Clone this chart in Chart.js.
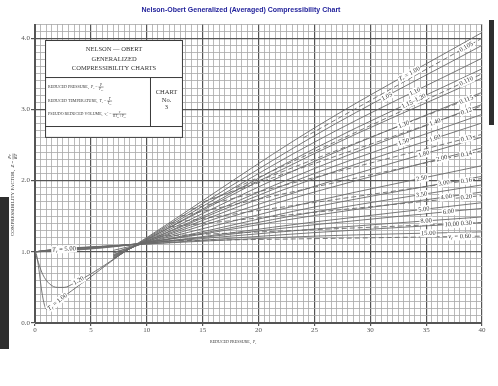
<!DOCTYPE html>
<html>
<head>
<meta charset="utf-8">
<script src="https://cdn.jsdelivr.net/npm/chart.js@4.4.0/dist/chart.umd.min.js"></script>
<style>
  html, body { margin: 0; padding: 0; background: #fff; }
  #wrap { width: 498px; height: 386px; }
</style>
</head>
<body>
<div id="wrap"><canvas id="chart"></canvas></div>
<script>
// reduced temperature of each isotherm
const trLabels = ['1.00', '1.05', '1.10', '1.15', '1.20', '1.30', '1.40', '1.50', '1.60', '1.80',
                  '2.00', '2.50', '3.00', '3.50', '4.00', '5.00', '6.00', '8.00', '10.00', '15.00'];

// Z read along the fan, at Pr = 10, 25 and 40
const fanPr = [10, 25, 40];
const zAt10 = [1.20, 1.19, 1.18, 1.17, 1.17, 1.16, 1.15, 1.15, 1.14, 1.14,
               1.13, 1.13, 1.13, 1.13, 1.13, 1.12, 1.12, 1.12, 1.11, 1.11];
const zAt25 = [2.74, 2.63, 2.54, 2.45, 2.38, 2.27, 2.17, 2.10, 2.03, 1.92,
               1.84, 1.71, 1.63, 1.56, 1.51, 1.42, 1.38, 1.32, 1.27, 1.22];
const zAt40 = [4.08, 3.90, 3.72, 3.57, 3.44, 3.24, 3.07, 2.93, 2.81, 2.61,
               2.46, 2.21, 2.06, 1.94, 1.84, 1.69, 1.61, 1.49, 1.41, 1.28];

// where the middle isotherms start (Pr = 7)
const zAt7 = [null, 0.90, 0.91, 0.92, null, 0.93, 0.94, 0.95, 0.96, 0.98,
              0.99, 1.02, null, null, null, null, null, null, null, null];

// hot isotherms near Pr = 0, 2, 5
const hotPr = [0, 2, 5];
const hotZ0 = [null, null, null, null, null, null, null, null, null, null,
               null, null, 1.00, 1.00, 1.00, 1.00, 1.00, 1.00, 1.00, 1.00];
const hotZ2 = [null, null, null, null, null, null, null, null, null, null,
               null, null, 1.01, 1.015, 1.02, 1.03, 1.03, 1.035, 1.035, 1.04];
const hotZ5 = [null, null, null, null, null, null, null, null, null, null,
               null, null, 1.04, 1.045, 1.05, 1.06, 1.06, 1.065, 1.065, 1.07];

// the two low pressure dips
const dip100Pr = [0, 0.15, 0.35, 0.6, 0.85, 1.05, 1.4, 3, 5, 8];
const dip100Z = [1.0, 0.95, 0.75, 0.45, 0.25, 0.19, 0.22, 0.42, 0.65, 1.0];
const dip120Pr = [0, 0.3, 0.7, 1.3, 2.0, 2.6, 3.5, 5, 6.5, 8];
const dip120Z = [1.0, 0.85, 0.68, 0.55, 0.50, 0.50, 0.56, 0.69, 0.84, 1.0];

// dashed lines of constant pseudo reduced volume
const vrLabels = ['0.105', '0.110', '0.115', '0.12', '0.13', '0.14', '0.16', '0.20', '0.30', '0.60'];
const vrStartPr = [24, 18, 16, 15, 14, 13, 12, 12, 11, 10];
const vrStartZ = [2.60, 1.90, 1.75, 1.70, 1.60, 1.50, 1.40, 1.35, 1.22, 1.15];
const vrEndZ = [4.00, 3.50, 3.22, 3.05, 2.65, 2.42, 2.03, 1.79, 1.41, 1.22];

// where the isotherm labels sit (Pr)
const isoLabelPr = [33.5, 31.5, 34, 33.9, null, 33, 35.8, 33, 35.8, 34.8,
                    36.4, 34.6, 36.6, 34.6, 36.8, 34.8, 37, 35, 37.3, 35.2];

const lineColor = '#6a6a6a';
const serif = '"Liberation Serif", "DejaVu Serif", serif';

const datasets = [];
trLabels.forEach((tr, i) => {
    const pts = [];
    if (i === 0) dip100Pr.forEach((p, k) => pts.push({ x: p, y: dip100Z[k] }));
    if (i === 4) dip120Pr.forEach((p, k) => pts.push({ x: p, y: dip120Z[k] }));
    if (zAt7[i] !== null) pts.push({ x: 7, y: zAt7[i] });
    if (hotZ0[i] !== null) {
        [hotZ0, hotZ2, hotZ5].forEach((col, k) => pts.push({ x: hotPr[k], y: col[i] }));
    }
    [zAt10, zAt25, zAt40].forEach((col, k) => pts.push({ x: fanPr[k], y: col[i] }));
    datasets.push({
        label: 'Tr = ' + tr,
        data: pts,
        borderColor: lineColor,
        borderWidth: 0.9,
        pointRadius: 0,
        cubicInterpolationMode: 'monotone',
        fill: false,
    });
});
vrLabels.forEach((vr, j) => {
    datasets.push({
        label: 'vr = ' + vr,
        data: [{ x: vrStartPr[j], y: vrStartZ[j] }, { x: 40, y: vrEndZ[j] }],
        borderColor: lineColor,
        borderWidth: 0.9,
        borderDash: [5, 3],
        pointRadius: 0,
        fill: false,
    });
});

const isMajorX = v => Math.abs(v / 5 - Math.round(v / 5)) < 1e-6;
const isMajorY = v => Math.abs(v - Math.round(v)) < 1e-6;

// ---- text helpers (italic variables, subscripts, fractions) ----
function fontFor(style, size) {
    if (style === 'i') return 'italic ' + size + 'px ' + serif;
    if (style === 's') return 'italic ' + (size * 0.7) + 'px ' + serif;
    return size + 'px ' + serif;
}
function richWidth(c, parts, size) {
    let w = 0;
    parts.forEach(p => {
        if (p[1] === 'f') { w += fracWidth(c, p[0], p[2], size); return; }
        c.font = fontFor(p[1], size);
        w += c.measureText(p[0]).width;
    });
    return w;
}
function fracWidth(c, num, den, size) {
    return Math.max(richWidth(c, num, size * 0.85), richWidth(c, den, size * 0.85)) + 1;
}
function drawRich(c, parts, x, y, size) {
    c.textBaseline = 'middle';
    c.textAlign = 'left';
    parts.forEach(p => {
        if (p[1] === 'f') {
            const w = fracWidth(c, p[0], p[2], size);
            const fs = size * 0.85;
            drawRich(c, p[0], x + (w - richWidth(c, p[0], fs)) / 2, y - size * 0.55, fs);
            drawRich(c, p[2], x + (w - richWidth(c, p[2], fs)) / 2, y + size * 0.6, fs);
            c.fillRect(x, y - 0.25, w, 0.5);
            x += w;
            return;
        }
        c.font = fontFor(p[1], size);
        c.fillText(p[0], x, p[1] === 's' ? y + size * 0.3 : y);
        x += c.measureText(p[0]).width;
    });
}

function lineZ(data, p) {
    for (let k = 0; k < data.length - 1; k++) {
        const a = data[k], b = data[k + 1];
        if (p >= a.x && p <= b.x) return a.y + (b.y - a.y) * (p - a.x) / (b.x - a.x);
    }
    return data[data.length - 1].y;
}

function labelOnLine(chart, idx, p, parts, size) {
    const c = chart.ctx, xs = chart.scales.x, ys = chart.scales.y;
    const data = chart.data.datasets[idx].data;
    const x0 = xs.getPixelForValue(p - 0.4), y0 = ys.getPixelForValue(lineZ(data, p - 0.4));
    const x1 = xs.getPixelForValue(p + 0.4), y1 = ys.getPixelForValue(lineZ(data, p + 0.4));
    c.save();
    c.translate(xs.getPixelForValue(p), ys.getPixelForValue(lineZ(data, p)));
    c.rotate(Math.atan2(y1 - y0, x1 - x0));
    const w = richWidth(c, parts, size);
    c.fillStyle = '#fff';
    c.fillRect(-w / 2 - 1, -size * 0.6, w + 2, size * 1.2);
    c.fillStyle = '#333';
    drawRich(c, parts, -w / 2, 0, size);
    c.restore();
}

// scanner shadows at the page edges
const paperPlugin = {
    id: 'paper',
    beforeDraw(chart) {
        const c = chart.ctx;
        c.save();
        c.fillStyle = '#fff';
        c.fillRect(0, 0, chart.width, chart.height);
        c.fillStyle = '#2e2e2e';
        c.fillRect(489, 20, 5, 105);
        c.fillRect(0, 197, 9, 152);
        c.restore();
    },
};

const notesPlugin = {
    id: 'notes',
    afterDatasetsDraw(chart) {
        const c = chart.ctx, xs = chart.scales.x, ys = chart.scales.y;
        const lab = 6.5;

        // isotherm labels
        isoLabelPr.forEach((p, i) => {
            if (p === null) return;
            let parts = [[trLabels[i], 'n']];
            if (i === 0) parts = [['T', 'i'], ['r', 's'], [' = 1.00', 'n']];
            if (i === 3) parts = [['1.15\u20131.20', 'n']];
            labelOnLine(chart, i, p, parts, lab);
        });
        labelOnLine(chart, 0, 2.0, [['T', 'i'], ['r', 's'], [' = 1.00', 'n']], lab);
        labelOnLine(chart, 4, 3.9, [['1.20', 'n']], lab);
        labelOnLine(chart, 15, 2.6, [['T', 'i'], ['r', 's'], [' = 5.00', 'n']], lab);
        vrLabels.forEach((vr, j) => {
            const last = j === vrLabels.length - 1;
            const parts = last ? [['v', 'i'], ['r', 's'], [' = ' + vr, 'n']] : [[vr, 'n']];
            labelOnLine(chart, trLabels.length + j, last ? 38.0 : 38.6, parts, lab);
        });

        // inset box
        const L = xs.getPixelForValue(0.9), R = xs.getPixelForValue(13.24);
        const T = ys.getPixelForValue(3.975), B = ys.getPixelForValue(2.60);
        const s1 = ys.getPixelForValue(3.455), s2 = ys.getPixelForValue(2.767);
        const dv = xs.getPixelForValue(10.29);
        c.save();
        c.fillStyle = '#fff';
        c.fillRect(L, T, R - L, B - T);
        c.strokeStyle = '#3a3a3a';
        c.lineWidth = 1;
        c.strokeRect(L + 0.5, T + 0.5, R - L - 1, B - T - 1);
        c.beginPath();
        c.moveTo(L, s1 + 0.5); c.lineTo(R, s1 + 0.5);
        c.moveTo(L, s2 + 0.5); c.lineTo(R, s2 + 0.5);
        c.moveTo(dv + 0.5, s1); c.lineTo(dv + 0.5, s2);
        c.stroke();
        c.fillStyle = '#333';
        c.textAlign = 'center';
        c.textBaseline = 'middle';
        c.font = '6.5px ' + serif;
        const mid = (L + R) / 2;
        c.fillText('NELSON \u2014 OBERT', mid, T + 9);
        c.fillText('GENERALIZED', mid, T + 19);
        c.fillText('COMPRESSIBILITY CHARTS', mid, T + 28);
        const cm = (dv + R) / 2;
        c.fillText('CHART', cm, T + 52);
        c.fillText('No.', cm, T + 60);
        c.fillText('3', cm, T + 67);
        const fs = 4;
        drawRich(c, [['REDUCED PRESSURE,  ', 'n'], ['P', 'i'], ['r', 's'], [' = ', 'n'],
            [[['P', 'i']], 'f', [['P', 'i'], ['cr', 's']]]], L + 3, T + 47, fs);
        drawRich(c, [['REDUCED TEMPERATURE,  ', 'n'], ['T', 'i'], ['r', 's'], [' = ', 'n'],
            [[['T', 'i']], 'f', [['T', 'i'], ['cr', 's']]]], L + 3, T + 61, fs);
        drawRich(c, [['PSEUDO REDUCED VOLUME,  ', 'n'], ['v', 'i'], ['r', 's'], ['\u2032 = ', 'n'],
            [[['v', 'i']], 'f', [['RT', 'i'], ['cr', 's'], [' / ', 'n'], ['P', 'i'], ['cr', 's']]]], L + 3, T + 74, fs);
        c.restore();

        // axis titles
        c.save();
        c.fillStyle = '#333';
        drawRich(c, [['REDUCED PRESSURE,  ', 'n'], ['P', 'i'], ['r', 's']], 210, 342, 4);
        c.translate(13, 236);
        c.rotate(-Math.PI / 2);
        drawRich(c, [['COMPRESSIBILITY FACTOR,  ', 'n'], ['Z', 'i'], [' = ', 'n'],
            [[['Pv', 'i']], 'f', [['RT', 'i']]]], 0, 0, 5);
        c.restore();
    },
};

new Chart(document.getElementById('chart'), {
    type: 'line',
    data: { datasets: datasets },
    options: {
        responsive: true,
        maintainAspectRatio: false,
        animation: false,
        layout: { padding: { left: 0, right: 16, top: 0, bottom: 0 } },
        plugins: {
            legend: { display: false },
            tooltip: { enabled: false },
            title: {
                display: true,
                text: 'Nelson-Obert Generalized (Averaged) Compressibility Chart',
                color: '#24249c',
                font: { family: '"Liberation Sans", Arial, sans-serif', size: 7, weight: 'bold' },
                padding: { top: 6, bottom: 9.6 },
            },
        },
        scales: {
            x: {
                type: 'linear',
                min: 0,
                max: 40,
                afterFit: s => { s.height = 63; },
                ticks: {
                    stepSize: 0.5,
                    autoSkip: false,
                    maxRotation: 0,
                    padding: 0,
                    color: '#555',
                    font: { family: serif, size: 7 },
                    callback: v => (isMajorX(v) ? String(Math.round(v)) : ''),
                },
                grid: {
                    color: ctx => (isMajorX(ctx.tick.value) ? '#555' : '#a8a8a8'),
                    lineWidth: ctx => (isMajorX(ctx.tick.value) ? 1.2 : 0.8),
                    tickColor: ctx => (isMajorX(ctx.tick.value) ? '#555' : 'rgba(0,0,0,0)'),
                    tickLength: 3,
                },
                border: { color: '#555' },
            },
            y: {
                type: 'linear',
                min: 0,
                max: 4.2,
                afterFit: s => { s.width = 35; },
                ticks: {
                    stepSize: 0.1,
                    autoSkip: false,
                    padding: 1,
                    color: '#555',
                    font: { family: serif, size: 7 },
                    callback: v => (isMajorY(v) ? v.toFixed(1) : ''),
                },
                grid: {
                    color: ctx => (isMajorY(ctx.tick.value) ? '#555' : '#a8a8a8'),
                    lineWidth: ctx => (isMajorY(ctx.tick.value) ? 1.2 : 0.8),
                    tickColor: ctx => (isMajorY(ctx.tick.value) ? '#555' : 'rgba(0,0,0,0)'),
                    tickLength: 4,
                },
                border: { color: '#555' },
            },
        },
    },
    plugins: [paperPlugin, notesPlugin],
});
</script>
</body>
</html>
